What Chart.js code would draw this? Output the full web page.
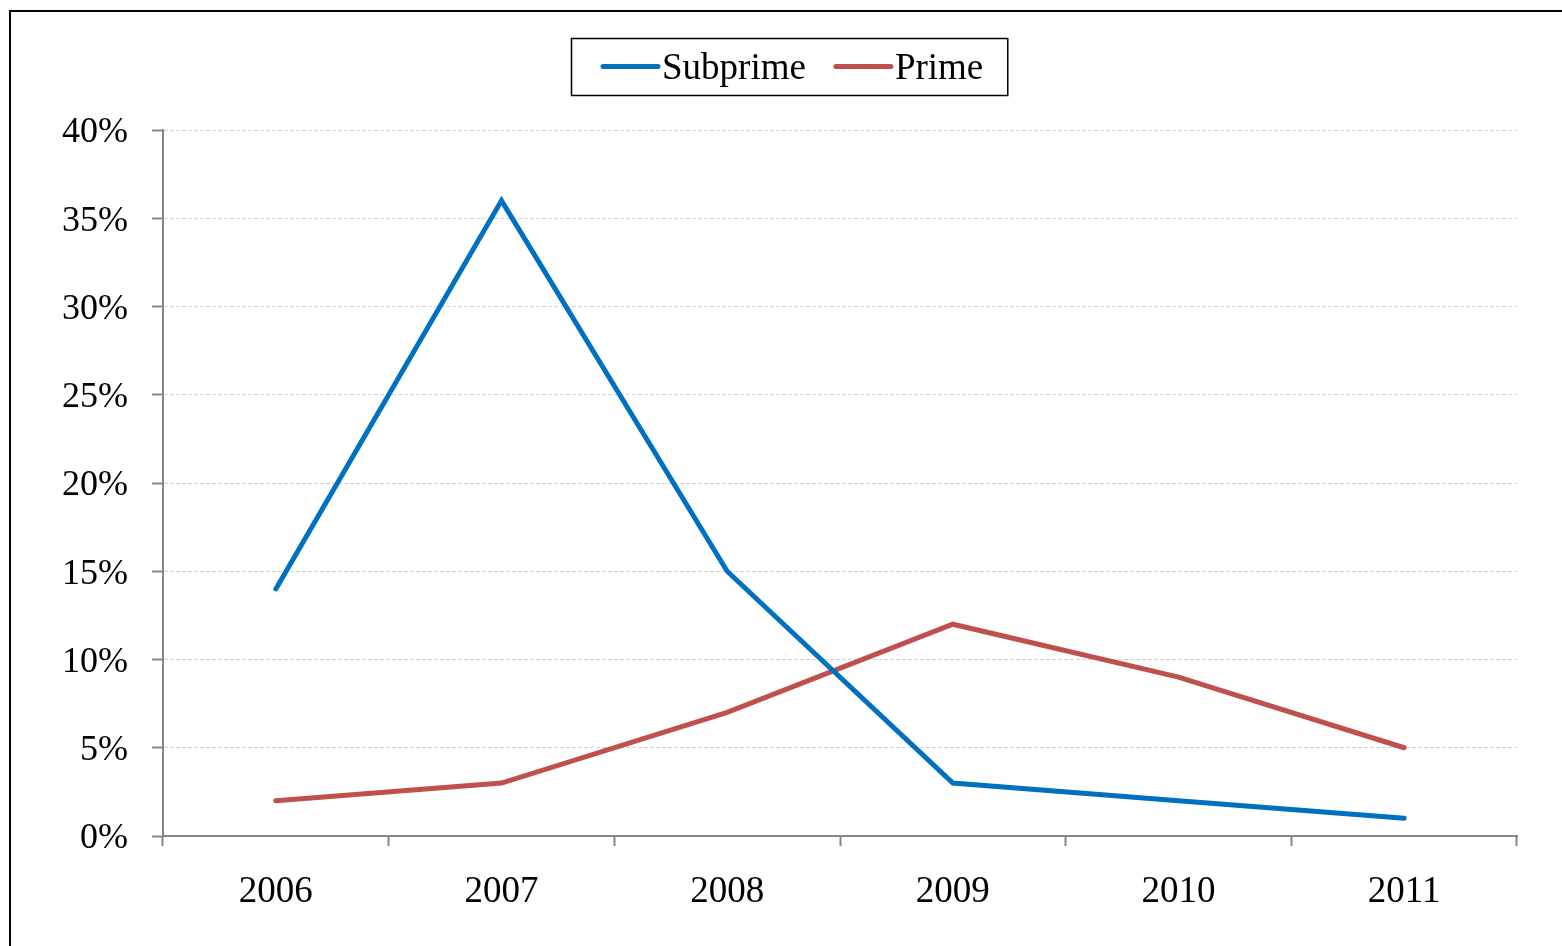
<!DOCTYPE html>
<html lang="en">
<head>
    <meta charset="UTF-8">
    <title>Subprime vs Prime</title>
    <script src="https://cdn.jsdelivr.net/npm/chart.js"></script>
    <style>
        html, body { margin: 0; padding: 0; background: #fff; overflow: hidden; }
        .frame {
            position: absolute;
            left: 9px;
            top: 10px;
            width: 1600px;
            height: 1000px;
            border-left: 2px solid #000;
            border-top: 2px solid #000;
        }
        #chartWrap { position: absolute; left: 0; top: 0; width: 1562px; height: 946px; }
    </style>
</head>
<body>
    <div class="frame"></div>
    <div id="chartWrap"><canvas id="rateChart"></canvas></div>
    <script>
        const years = ['2006', '2007', '2008', '2009', '2010', '2011'];
        const subprime = [14, 36, 15, 3, 2, 1];
        const prime = [2, 3, 7, 12, 9, 5];
        const seriesNames = ['Subprime', 'Prime'];
        const seriesColors = ['#0070C0', '#C0504D'];

        const serif = '"Liberation Serif", "Times New Roman", serif';

        // boxed legend drawn above the plot area
        const boxedLegend = {
            id: 'boxedLegend',
            afterDraw(chart) {
                const ctx = chart.ctx;
                const fontSize = 37;
                const lineLen = 55, gap = 4, itemGap = 30, padL = 32, padR = 24;
                ctx.save();
                ctx.font = fontSize + 'px ' + serif;
                const items = chart.data.datasets.map(ds => ({
                    label: ds.label,
                    color: ds.borderColor,
                    w: ctx.measureText(ds.label).width
                }));
                let total = padL + padR;
                items.forEach((it, i) => {
                    total += lineLen + gap + it.w + (i > 0 ? itemGap : 0);
                });
                const left = Math.round(chart.width / 2 + 8 - total / 2);
                const top = 38, height = 57;
                ctx.strokeStyle = '#000';
                ctx.lineWidth = 1.5;
                ctx.strokeRect(left + 0.5, top + 0.5, total, height);

                const midY = top + height / 2;
                let x = left + padL;
                items.forEach((it, i) => {
                    if (i > 0) x += itemGap;
                    ctx.strokeStyle = it.color;
                    ctx.lineWidth = 5;
                    ctx.lineCap = 'round';
                    ctx.beginPath();
                    ctx.moveTo(x, midY);
                    ctx.lineTo(x + lineLen, midY);
                    ctx.stroke();
                    x += lineLen + gap;
                    ctx.fillStyle = '#000';
                    ctx.textBaseline = 'middle';
                    ctx.textAlign = 'left';
                    ctx.fillText(it.label, x, midY + 3);
                    x += it.w;
                });
                ctx.restore();
            }
        };

        const ctx = document.getElementById('rateChart').getContext('2d');
        new Chart(ctx, {
            type: 'line',
            data: {
                labels: years,
                datasets: [
                    {
                        label: seriesNames[0],
                        data: subprime,
                        borderColor: seriesColors[0],
                        backgroundColor: seriesColors[0],
                        borderWidth: 5,
                        borderCapStyle: 'round',
                        pointRadius: 0,
                        tension: 0,
                        fill: false
                    },
                    {
                        label: seriesNames[1],
                        data: prime,
                        borderColor: seriesColors[1],
                        backgroundColor: seriesColors[1],
                        borderWidth: 5,
                        borderCapStyle: 'round',
                        pointRadius: 0,
                        tension: 0,
                        fill: false
                    }
                ]
            },
            options: {
                responsive: true,
                maintainAspectRatio: false,
                animation: false,
                layout: { padding: { top: 130, right: 45, left: 0, bottom: 0 } },
                plugins: {
                    legend: { display: false },
                    tooltip: { enabled: false }
                },
                scales: {
                    x: {
                        offset: true,
                        grid: {
                            offset: true,
                            drawOnChartArea: false,
                            tickLength: 10,
                            tickColor: '#868686',
                            tickWidth: 2,
                            color: '#868686'
                        },
                        border: { color: '#868686', width: 2 },
                        ticks: {
                            color: '#000',
                            padding: 24,
                            font: { family: serif, size: 37 }
                        },
                        afterFit(scale) { scale.height = 110; }
                    },
                    y: {
                        min: 0,
                        max: 40,
                        grid: {
                            color: '#d4d4d4',
                            lineWidth: 1,
                            tickLength: 11,
                            tickColor: '#868686',
                            tickWidth: 2
                        },
                        border: { color: '#868686', width: 2, dash: [4, 2] },
                        ticks: {
                            stepSize: 5,
                            color: '#000',
                            padding: 24,
                            labelOffset: 3,
                            font: { family: serif, size: 36 },
                            callback: v => v + '%'
                        },
                        afterFit(scale) { scale.width = 163; }
                    }
                }
            },
            plugins: [boxedLegend]
        });
    </script>
</body>
</html>
